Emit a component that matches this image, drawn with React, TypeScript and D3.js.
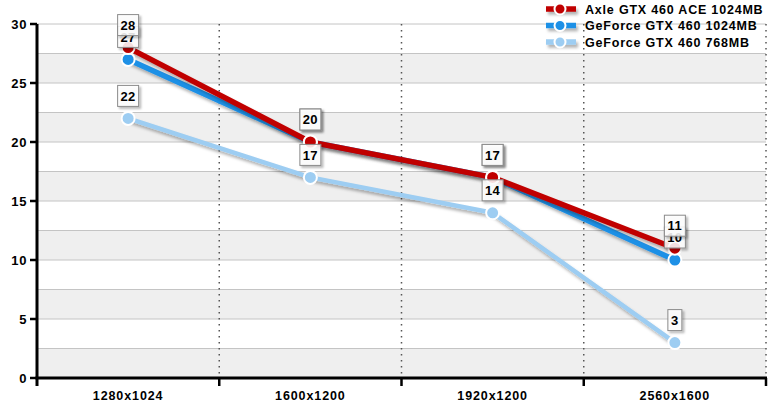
import React from 'react';
import * as d3 from 'd3';

const categories = ['1280x1024', '1600x1200', '1920x1200', '2560x1600'];
const seriesNames = ['Axle GTX 460 ACE 1024MB', 'GeForce GTX 460 1024MB', 'GeForce GTX 460 768MB'];
const axleValues = [28, 20, 17, 11];
const gtx1024Values = [27, 20, 17, 10];
const gtx768Values = [22, 17, 14, 3];
const yTicks = [0, 5, 10, 15, 20, 25, 30];

const W = 773, H = 407;
const left = 37, right = 766, top = 24, bottom = 378;

export default function App() {
  const x = d3.scaleBand<string>().domain(categories).range([left, right]).padding(0);
  const y = d3.scaleLinear().domain([0, 30]).range([bottom, top]);
  const cx = (c: string) => (x(c) as number) + x.bandwidth() / 2;

  const series = [
    { name: seriesNames[2], values: gtx768Values, color: '#9dcdf2', width: 4.5 },
    { name: seriesNames[1], values: gtx1024Values, color: '#1e90e6', width: 5.5 },
    { name: seriesNames[0], values: axleValues, color: '#c00000', width: 5.5 },
  ];
  const line = d3.line<number>().x((_, i) => cx(categories[i])).y(d => y(d));

  const bands = d3.range(0, 30, 5);
  const grid = d3.range(0, 30.01, 2.5);

  return (
    <svg width={W} height={H} style={{ position: 'absolute', left: 0, top: 0 }} fontFamily="Arial, 'Liberation Sans', sans-serif">
      <defs>
        <filter id="sh" filterUnits="userSpaceOnUse" x="0" y="0" width={W} height={H}>
          <feDropShadow dx="2" dy="3" stdDeviation="1.5" floodColor="#000" floodOpacity="0.3" />
        </filter>
        <filter id="sh2" filterUnits="userSpaceOnUse" x="0" y="0" width={W} height={H}>
          <feDropShadow dx="2" dy="2" stdDeviation="1" floodColor="#000" floodOpacity="0.3" />
        </filter>
      </defs>
      <rect x={0} y={0} width={W} height={H} fill="#fff" />
      {bands.map(b => (
        <rect key={b} x={left} width={right - left} y={y(b + 2.5)} height={y(b) - y(b + 2.5)} fill="#efefef" />
      ))}
      {grid.map(g => (
        <line key={g} x1={left} x2={right} y1={y(g)} y2={y(g)} stroke="#c4c4c4" strokeWidth={1} />
      ))}
      {categories.map(c => (
        <line key={c} x1={(x(c) as number) + x.bandwidth()} x2={(x(c) as number) + x.bandwidth()} y1={top} y2={bottom}
          stroke="#555" strokeWidth={1.5} strokeDasharray="1.5,4.5" />
      ))}
      {/* axes */}
      <line x1={left} x2={left} y1={top} y2={bottom + 8} stroke="#000" strokeWidth={3} />
      <line x1={left - 1.5} x2={right + 1} y1={bottom} y2={bottom} stroke="#000" strokeWidth={3} />
      {categories.map(c => (
        <line key={c} x1={(x(c) as number) + x.bandwidth()} x2={(x(c) as number) + x.bandwidth()} y1={bottom} y2={bottom + 8}
          stroke="#000" strokeWidth={2.5} />
      ))}
      {yTicks.map(t => (
        <g key={t}>
          <line x1={left - 7} x2={left} y1={y(t)} y2={y(t)} stroke="#000" strokeWidth={2.5} />
          <text x={left - 10} y={y(t)} dy="0.36em" textAnchor="end" fontSize={13} letterSpacing={0.6} fontWeight="bold">{t}</text>
        </g>
      ))}
      {categories.map(c => (
        <text key={c} x={cx(c)} y={400} textAnchor="middle" fontSize={12.5} letterSpacing={0.9} fontWeight="bold">{c}</text>
      ))}
      {/* lines */}
      {series.map(s => (
        <path key={s.name} d={line(s.values) as string} fill="none" stroke={s.color} strokeWidth={s.width}
          strokeLinejoin="round" filter="url(#sh)" />
      ))}
      {series.map(s => (
        <g key={s.name + 'p'}>
          {s.values.map((v, i) => (
            <circle key={i} cx={cx(categories[i])} cy={y(v)} r={6.5} fill={s.color} stroke="#fff" strokeWidth={2} />
          ))}
        </g>
      ))}
      {/* labels */}
      {series.map(s => (
        <g key={s.name + 'l'}>
          {s.values.map((v, i) => {
            const t = String(v);
            const w = t.length * 7 + 7;
            const px = cx(categories[i]);
            const py = y(v) - 22.5;
            return (
              <g key={i}>
                <rect x={px - w / 2} y={py - 10.5} width={w} height={21} fill="#fff" fillOpacity={0.85}
                  stroke="#8a8a8a" strokeWidth={1} filter="url(#sh2)" />
                <text x={px} y={py} dy="0.36em" textAnchor="middle" fontSize={13} letterSpacing={0.4} fontWeight="bold">{t}</text>
              </g>
            );
          })}
        </g>
      ))}
      {/* legend */}
      {[series[2], series[1], series[0]].map((s, i) => {
        const ly = 9 + i * 16.5;
        return (
          <g key={s.name + 'leg'}>
            <rect x={546} y={ly - 2.75} width={30} height={5.5} fill={s.color} filter="url(#sh)" />
            <circle cx={560} cy={ly} r={5.5} fill={s.color} stroke="#fff" strokeWidth={2} />
            <text x={585} y={ly} dy="0.36em" fontSize={12.5} letterSpacing={0.8} fontWeight="bold">{s.name}</text>
          </g>
        );
      })}
    </svg>
  );
}
